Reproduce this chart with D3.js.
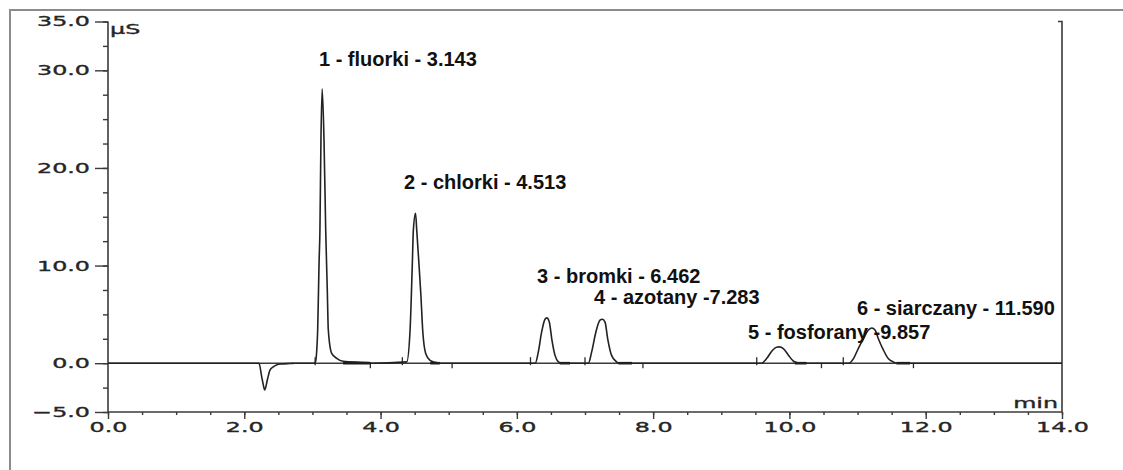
<!DOCTYPE html>
<html lang="pl">
	<head>
		<meta charset="utf-8">
		<title>Chromatogram</title>
		<script src="https://d3js.org/d3.v7.min.js"></script>
		<style>
			body { margin: 0; background: #fff; }
			.tick text, .unit { font-family: "DejaVu Sans", sans-serif; font-size: 14px; font-weight: normal; fill: #262626; stroke: #262626; stroke-width: 0.35px; }
			.peak-label { font-family: "Liberation Sans", Arial, sans-serif; font-size: 20px; font-weight: bold; fill: #111; }
		</style>
	</head>

	<body>
		<div id="vis"></div>
	</body>

	<script>
		// signal (min, µS)
		var signalTime = [0, 2.216, 2.255, 2.279, 2.30, 2.338, 2.377, 2.42, 2.473, 2.55, 2.67, 2.75,
			3.03, 3.045, 3.077, 3.097, 3.11, 3.125, 3.143, 3.17, 3.195, 3.218, 3.233, 3.283, 3.356, 3.449, 3.85, 3.86,
			4.384, 4.433, 4.466, 4.481, 4.513, 4.531, 4.563, 4.593, 4.618, 4.662, 4.726, 4.80, 4.87,
			6.27, 6.315, 6.364, 6.413, 6.44, 6.477, 6.512, 6.56, 6.61, 6.65,
			7.05, 7.098, 7.16, 7.22, 7.254, 7.294, 7.333, 7.39, 7.465, 7.50,
			9.59, 9.665, 9.74, 9.81, 9.852, 9.91, 9.985, 10.06, 10.11, 10.15,
			10.87, 10.94, 11.01, 11.085, 11.16, 11.21, 11.256, 11.305, 11.38, 11.45, 11.525, 11.58,
			14.0];
		var signalValue = [0, 0, -1.37, -2.22, -2.74, -1.72, -0.7, -0.4, -0.18, -0.08, -0.03, 0,
			0, 0.15, 3.4, 10.2, 13.6, 22.8, 28.1, 22.8, 13.6, 7.5, 3.4, 1.0, 0.5, 0.2, 0.05, 0,
			0.13, 3.4, 10.2, 13.6, 15.35, 13.6, 10.2, 6.8, 3.4, 1.0, 0.3, 0.1, 0,
			0, 1.16, 3.2, 4.5, 4.64, 4.2, 2.5, 0.8, 0.13, 0,
			0, 1.16, 3.2, 4.4, 4.5, 4.2, 2.5, 0.8, 0.13, 0,
			0, 0.47, 1.23, 1.64, 1.67, 1.5, 0.82, 0.2, 0.07, 0,
			0, 0.47, 1.5, 2.5, 3.4, 3.6, 3.4, 2.5, 1.33, 0.47, 0.13, 0,
			0];

		var peakLabels = ["1 - fluorki - 3.143", "2 - chlorki - 4.513", "3 - bromki - 6.462",
			"4 - azotany -7.283", "5 - fosforany -9.857", "6 - siarczany - 11.590"];

		// integration marks
		var startMarks = [3.04, 4.32, 6.20, 7.0, 9.52, 10.79];
		var endMarks = [3.85, 5.05, 7.85, 10.47, 11.82];
		var baseSegments = [[3.45, 3.85], [4.73, 4.87], [6.63, 6.78], [7.49, 7.69], [10.08, 10.25], [11.57, 11.77]];

		var xTicks = [0, 2, 4, 6, 8, 10, 12, 14];
		var yTicks = [-5, 0, 10, 20, 30, 35];

		// where each label sits (left/baseline, in chart units)
		var labelPos = [[3.096, 30.44], [4.344, 17.84], [6.296, 8.21], [7.132, 6.06], [9.392, 2.48], [10.991, 4.94]];

		var width = 1123, height = 470;
		var margin = {left: 108, right: 61, top: 21.5, bottom: 58};

		var svg = d3.select("#vis").append("svg")
			.attr("width", width)
			.attr("height", height);

		// frame of the screenshot
		svg.append("rect")
			.attr("x", 10).attr("y", 10)
			.attr("width", 1300).attr("height", 700)
			.attr("fill", "none")
			.attr("stroke", "#8c8c8c")
			.attr("stroke-width", 2);

		var x = d3.scaleLinear().domain([0, 14]).range([margin.left, width - margin.right]);
		var y = d3.scaleLinear().domain([-5, 35]).range([height - margin.bottom, margin.top]);

		var axisColor = "#3a3a3a";

		// minor ticks
		svg.append("g")
			.attr("transform", "translate(0," + y(-5) + ")")
			.call(d3.axisBottom(x).tickValues(d3.range(0, 14.01, 0.5)).tickSize(3).tickSizeOuter(0).tickFormat(""))
			.call(function(g){ g.select(".domain").remove(); });
		svg.append("g")
			.attr("transform", "translate(" + x(0) + ",0)")
			.call(d3.axisLeft(y).tickValues(d3.range(-5, 35.01, 2.5)).tickSize(5).tickSizeOuter(0).tickFormat(""))
			.call(function(g){ g.select(".domain").remove(); });

		// major ticks + labels
		var xAxis = svg.append("g")
			.attr("transform", "translate(0," + y(-5) + ")")
			.call(d3.axisBottom(x).tickValues(xTicks).tickSize(7).tickSizeOuter(0).tickFormat(d3.format(".1f")));
		xAxis.select(".domain").remove();
		xAxis.selectAll("text")
			.attr("y", 0).attr("dy", 0)
			.attr("transform", "translate(0,20) scale(1.7,1)");

		var yAxis = svg.append("g")
			.attr("transform", "translate(" + x(0) + ",0)")
			.call(d3.axisLeft(y).tickValues(yTicks).tickSize(13).tickSizeOuter(0).tickFormat(d3.format(".1f")));
		yAxis.select(".domain").remove();
		yAxis.selectAll("text")
			.attr("x", 0)
			.attr("transform", "translate(-18,0) scale(1.7,1)");

		svg.selectAll(".tick line").attr("stroke", axisColor).attr("stroke-width", 1.4);

		// axis box lines
		var box = svg.append("g").attr("stroke", axisColor).attr("stroke-width", 1.6).attr("fill", "none");
		box.append("line").attr("x1", x(0)).attr("x2", x(0)).attr("y1", y(35)).attr("y2", y(-5));
		box.append("line").attr("x1", x(0)).attr("x2", x(14)).attr("y1", y(-5)).attr("y2", y(-5));
		box.append("path").attr("d", "M" + (x(14) - 4) + "," + y(35) + "H" + x(14) + "V" + y(-5));

		svg.append("text").attr("class", "unit")
			.attr("transform", "translate(" + (x(0) + 2) + "," + (y(35) + 12) + ") scale(1.7,1)")
			.text("µS");
		svg.append("text").attr("class", "unit")
			.attr("text-anchor", "end")
			.attr("transform", "translate(" + (x(14) - 4) + "," + (y(-5) - 4) + ") scale(1.7,1)")
			.text("min");

		// zero line
		svg.append("line")
			.attr("x1", x(0)).attr("x2", x(14))
			.attr("y1", y(0)).attr("y2", y(0))
			.attr("stroke", "#3a3a3a").attr("stroke-width", 1.4);

		// baseline segments + marks
		svg.append("g").selectAll("line")
			.data(baseSegments)
			.enter().append("line")
			.attr("x1", function(d){ return x(d[0]); })
			.attr("x2", function(d){ return x(d[1]); })
			.attr("y1", y(0)).attr("y2", y(0))
			.attr("stroke", "#1a1a1a").attr("stroke-width", 2.6);

		svg.append("g").selectAll("line")
			.data(startMarks)
			.enter().append("line")
			.attr("x1", function(d){ return x(d); })
			.attr("x2", function(d){ return x(d); })
			.attr("y1", y(0) + 2).attr("y2", y(0) - 6)
			.attr("stroke", "#2a2a2a").attr("stroke-width", 1.3);

		svg.append("g").selectAll("line")
			.data(endMarks)
			.enter().append("line")
			.attr("x1", function(d){ return x(d); })
			.attr("x2", function(d){ return x(d); })
			.attr("y1", y(0)).attr("y2", y(0) + 5)
			.attr("stroke", "#2a2a2a").attr("stroke-width", 1.3);

		// the trace
		var signal = signalTime.map(function(t, i){ return {t: t, v: signalValue[i]}; });
		var line = d3.line()
			.x(function(d){ return x(d.t); })
			.y(function(d){ return y(d.v); })
			.curve(d3.curveMonotoneX);

		svg.append("path")
			.attr("d", line(signal))
			.attr("fill", "none")
			.attr("stroke", "#222")
			.attr("stroke-width", 1.6);

		svg.append("g").selectAll("text")
			.data(peakLabels)
			.enter().append("text")
			.attr("class", "peak-label")
			.attr("x", function(d, i){ return x(labelPos[i][0]); })
			.attr("y", function(d, i){ return y(labelPos[i][1]); })
			.text(function(d){ return d; });
	</script>
</html>
